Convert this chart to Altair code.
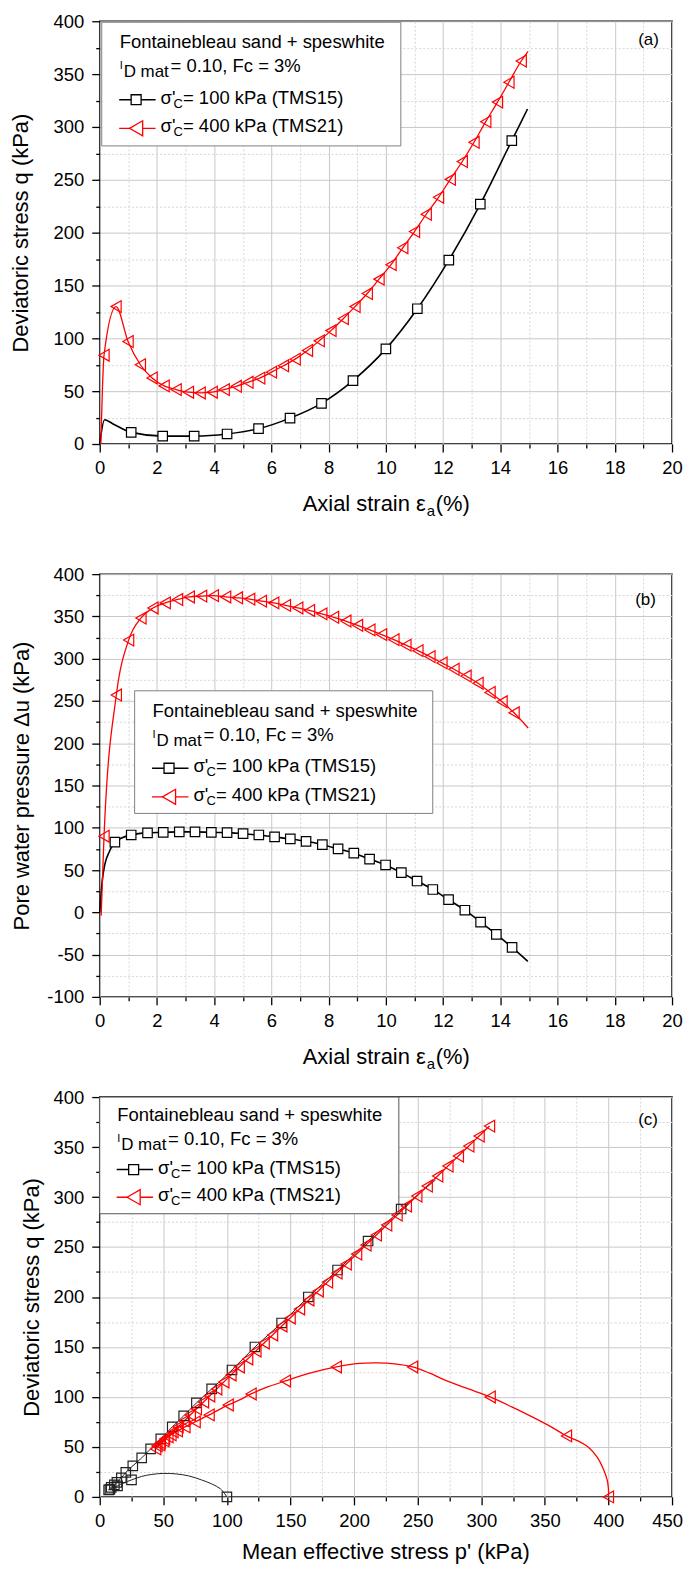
import altair as alt
import pandas as pd

FONT = "Liberation Sans"
RED = "#ff0000"
BLACK = "#000000"

# ---------------- tick positions ----------------
strain_ticks = [0, 1, 2, 3, 4, 5, 6, 7, 8, 9, 10, 11, 12, 13, 14, 15, 16, 17, 18, 19, 20]
q_ticks = [0, 25, 50, 75, 100, 125, 150, 175, 200, 225, 250, 275, 300, 325, 350, 375, 400]
u_ticks = [-100, -75, -50, -25, 0, 25, 50, 75, 100, 125, 150, 175, 200, 225, 250, 275, 300,
           325, 350, 375, 400]
p_ticks = [0, 25, 50, 75, 100, 125, 150, 175, 200, 225, 250, 275, 300, 325, 350, 375, 400,
           425, 450]

# ---------------- (a) q vs axial strain ----------------
a15_strain = [0, 0.17, 0.5, 1.1, 2.2, 3.3, 4.45, 5.55, 6.65, 7.75, 8.85, 10.0, 11.1, 12.2,
              13.3, 14.4, 14.95]
a15_q = [0, 23, 18.5, 11, 7.5, 7.5, 9.5, 14.5, 24.5, 38.5, 60, 90, 128, 174, 227, 287, 317]
a15_mark = [0, 0, 0, 1, 1, 1, 1, 1, 1, 1, 1, 1, 1, 1, 1, 1, 0]

a21_strain = [0.04, 0.15, 0.57, 0.99, 1.42, 1.83, 2.25, 2.67, 3.1, 3.51, 3.93, 4.35, 4.77,
              5.18, 5.59, 6.0, 6.42, 6.83, 7.26, 7.67, 8.08, 8.51, 8.92, 9.35, 9.76, 10.18,
              10.59, 11.0, 11.41, 11.84, 12.25, 12.67, 13.08, 13.49, 13.9, 14.3, 14.73, 14.97]
a21_q = [0, 84, 130, 97, 75, 62.5, 55, 51.5, 49, 48.3, 49, 51.5, 54.6, 58.4, 62.4, 68, 74,
         80.3, 88.5, 97.6, 107.3, 118.6, 130, 142.4, 156, 169.7, 185.7, 201, 217.4, 233.4,
         250.4, 267.3, 285.5, 305, 323.5, 342.3, 362.4, 371.5]
a21_mark = [0] + [1] * 36 + [0]

# ---------------- (b) pore pressure vs axial strain ----------------
b15_strain = [0, 0.08, 0.18, 0.34, 0.53, 1.1, 1.67, 2.22, 2.78, 3.33, 3.9, 4.45, 5.01, 5.56,
              6.11, 6.66, 7.21, 7.78, 8.33, 8.88, 9.43, 9.99, 10.54, 11.09, 11.64, 12.19,
              12.76, 13.31, 13.86, 14.41, 14.96]
b15_u = [0, 35, 57, 72, 83, 91.5, 94, 94.5, 95.2, 95.2, 94.5, 94.3, 93, 91.5, 89.2, 86.8, 84,
         80, 75, 70, 63, 56, 47, 37, 27, 15, 2.5, -11.5, -26, -41.5, -58]
b15_mark = [0, 0, 0, 0] + [1] * 26 + [0]

b21_strain = [0.05, 0.15, 0.58, 1.01, 1.44, 1.86, 2.29, 2.72, 3.13, 3.56, 3.97, 4.40, 4.81,
              5.24, 5.65, 6.08, 6.49, 6.92, 7.33, 7.76, 8.17, 8.60, 9.01, 9.44, 9.85, 10.28,
              10.70, 11.12, 11.54, 11.96, 12.38, 12.80, 13.22, 13.64, 14.06, 14.48, 14.97]
b21_u = [-4, 90, 257, 322, 348, 360, 366, 370, 373, 374, 374.5, 373, 372, 370.5, 368, 366,
         363, 360, 357, 353, 349, 344.5, 339.5, 334, 328.5, 322.5, 316, 309.5, 302.5, 295,
         287.5, 279.5, 271, 260, 249, 236, 218]
b21_mark = [0] + [1] * 35 + [0]

# ---------------- (c) q vs mean effective stress ----------------
c15_p = [100, 95, 88, 80, 70, 60, 50, 41, 33, 25, 19, 14, 10, 8, 7, 7.5, 9, 11.5, 13.5, 17,
         20.5, 26, 33, 40, 48, 57, 66, 76, 88, 104, 122, 143, 164, 187, 211, 237, 264]
c15_q = [0, 8, 13, 17, 21, 23, 23.5, 22.5, 20.5, 17, 14, 11, 9, 7.5, 7, 8, 9.5, 12, 14.5, 19,
         24.5, 31, 39, 48, 58, 70, 81, 94, 108, 127, 150, 174, 200, 227, 256, 288, 317]
c15_mark = [1, 0, 0, 0, 0, 0, 0, 0, 0, 1, 0, 1, 0, 1, 1, 0, 1, 1, 1, 1, 1, 1, 1, 1, 1, 1, 1,
            1, 1, 1, 1, 1, 1, 1, 1, 1, 0]

c21_p = [400, 400, 399, 396, 391, 384, 376, 367, 355, 340, 324, 307, 290, 273, 259, 246, 232,
         218, 204, 186, 166, 146, 132, 119, 110, 101, 86, 75, 67, 61, 56, 51, 47.5, 45, 44,
         47.2, 50.4, 53.6, 57.6, 61.6, 66.4, 71.2, 76.0, 81.6, 86.4, 92.0, 97.6, 103.2,
         109.7, 116.3, 122.8, 129.3, 135.9, 143.2, 149.7, 157.1, 164.4, 171.8, 179.1, 186.5,
         193.8, 202.0, 209.3, 217.5, 225.6, 233.8, 241.1, 249.3, 257.5, 265.7, 273.8, 282.0,
         290.2, 298.3, 306.5]
c21_q = [0, 8, 17, 28, 40, 50, 56, 61, 70, 80, 90, 100, 108, 116, 124, 130, 133, 134, 133.5,
         130, 124, 116, 110, 103, 97, 92, 82, 75, 70, 66, 62, 58, 54, 51, 48,
         52, 56, 60, 65, 70, 76, 82, 88, 95, 101, 108, 115, 122, 130, 138, 146, 154, 162, 171,
         179, 188, 197, 206, 215, 224, 233, 243, 252, 262, 272, 282, 291, 301, 311, 321, 331,
         341, 351, 361, 371]
c21_mark = [1, 0, 0, 0, 0, 0, 0, 1, 0, 0, 0, 1, 0, 0, 0, 1, 0, 0, 0, 1, 0, 1, 0, 1, 0, 1,
            1, 1, 1, 1, 1, 1, 1, 1, 1] + [1] * 40

LEGEND_TITLE = "Fontainebleau sand + speswhite"
LEGEND_ID = "= 0.10, Fc = 3%"
LEGEND_S1 = "= 100 kPa (TMS15)"
LEGEND_S2 = "= 400 kPa (TMS21)"

TICK_FS = 18.5
TITLE_FS = 22
LEG_FS = 18.5
W = 574


def frame(x, y, m):
    return pd.DataFrame({"x": x, "y": y, "m": m, "o": list(range(len(x)))})


def cond(test, major, minor):
    return {"condition": {"test": test, "value": major}, "value": minor}


def axis(values, major, title, title_pad, label_pad, last=None, last_shift=0):
    test = f"datum.value % {major} === 0"
    kw = dict(
        values=values,
        labelExpr=f"{test} ? '' + datum.value : ''",
        labelOverlap=False,
        labelFlush=False,
        labelPadding=label_pad,
        tickSize=cond(test, 8, 4),
        tickColor=BLACK,
        tickWidth=1.3,
        grid=True,
        gridColor=cond(test, "#c8c8c8", "#d6d6d6"),
        gridDash=cond(test, [], [2, 2]),
        gridWidth=1,
        domain=False,
    )
    if last is not None:
        kw.update(labelOffset=cond(f"datum.value === {last}", last_shift, 0))
    if title:
        kw.update(title=title, titlePadding=title_pad)
    else:
        kw.update(title=None)
    return alt.Axis(**kw)


ANNOT = pd.DataFrame({"k": [0]})


def text(s, x, y, size=LEG_FS, align="left", baseline="alphabetic"):
    return alt.Chart(ANNOT).mark_text(
        text=s, font=FONT, fontSize=size, color=BLACK, align=align, baseline=baseline
    ).encode(x=alt.value(x), y=alt.value(y))


def legend(box, lx, b1, b2, b3, b4, box_stroke="#808080"):
    x0, x1, y0, y1 = box
    L = [alt.Chart(ANNOT).mark_rect(fill="white", stroke=box_stroke, strokeWidth=1).encode(
        x=alt.value(x0), x2=alt.value(x1), y=alt.value(y0), y2=alt.value(y1))]
    L.append(text(LEGEND_TITLE, lx, b1))
    L.append(text("I", lx, b2 - 3, size=11))
    L.append(text("D mat", lx + 4, b2 + 5, size=17))
    L.append(text(LEGEND_ID, lx + 51, b2))
    for b, col, shape, size, lab in [
        (b3, BLACK, "square", 100, LEGEND_S1),
        (b4, RED, "triangle-left", 230, LEGEND_S2),
    ]:
        ys = b - 4
        L.append(alt.Chart(ANNOT).mark_rule(color=col, strokeWidth=1.4).encode(
            x=alt.value(lx - 0.5), x2=alt.value(lx + 36), y=alt.value(ys)))
        L.append(alt.Chart(ANNOT).mark_point(
            shape=shape, size=size, stroke=col, fill="white", fillOpacity=1, strokeWidth=1.3,
            opacity=1).encode(x=alt.value(lx + 16.5), y=alt.value(ys)))
        L.append(text("σ'", lx + 41, b))
        L.append(text("C", lx + 54, b + 4, size=13))
        L.append(text(lab, lx + 63.5, b))
    return L


def strain_title(h, base, paren):
    # "Axial strain ε" + subscript "a" + "(%)"
    cx = W / 2 + 40
    return [
        text("Axial strain ε", cx, h + base, size=TITLE_FS, align="right"),
        text("a", cx + 1, h + base + 5, size=15),
        text(paren, cx + 10, h + base, size=TITLE_FS),
    ]


def panel(series, xdom, ydom, xt, yt, xmaj, ymaj, ytitle, ytp, interp,
          tag, tag_xy, leg, xtitle_layers, w, h, last):
    X = alt.X("x:Q", scale=alt.Scale(domain=xdom, nice=False, zero=False),
              axis=axis(xt, xmaj, None, 0, 7, last, -5 if last == 450 else 0))
    Y = alt.Y("y:Q", scale=alt.Scale(domain=ydom, nice=False, zero=False),
              axis=axis(yt, ymaj, ytitle, ytp, 8))
    layers = []
    for df, col, lw, shape, size, fill in series:
        layers.append(alt.Chart(df).mark_line(color=col, strokeWidth=lw,
                                              interpolate=interp).encode(
            x=X, y=Y, order="o:Q"))
    layers += leg
    for df, col, lw, shape, size, fill in series:
        kw = dict(shape=shape, size=size, stroke=col, strokeWidth=1.2, opacity=1)
        if fill:
            kw.update(fill=fill, fillOpacity=1)
        layers.append(alt.Chart(df).transform_filter("datum.m == 1").mark_point(**kw).encode(
            x=X, y=Y))
    layers.append(text(tag, tag_xy[0], tag_xy[1], size=17, baseline="middle"))
    layers += xtitle_layers
    return alt.layer(*layers).properties(width=w, height=h)


HA, HB, HC = 424, 424, 401

pa = panel(
    [(frame(a15_strain, a15_q, a15_mark), BLACK, 1.6, "square", 90, "white"),
     (frame(a21_strain, a21_q, a21_mark), RED, 1.3, "triangle-left", 140, None)],
    [0, 20], [0, 400], strain_ticks, q_ticks, 2, 50,
    "Deviatoric stress q (kPa)", 21, "monotone",
    "(a)", (540, 18.5), legend((2, 302, 1, 125), 20, 27, 51, 82.7, 111.4),
    strain_title(HA, 67, "(%)"), W, HA, 20)

pb = panel(
    [(frame(b15_strain, b15_u, b15_mark), BLACK, 1.6, "square", 90, "white"),
     (frame(b21_strain, b21_u, b21_mark), RED, 1.3, "triangle-left", 140, None)],
    [0, 20], [-100, 400], strain_ticks, u_ticks, 2, 50,
    "Pore water pressure Δu (kPa)", 13, "monotone",
    "(b)", (537, 25.7), legend((35, 334, 117, 240), 53, 143, 167, 198.7, 227.4),
    strain_title(HB, 67, " (%)"), W, HB, 20)

pc = panel(
    [(frame(c15_p, c15_q, c15_mark), "#222222", 1.0, "square", 90, None),
     (frame(c21_p, c21_q, c21_mark), RED, 1.3, "triangle-left", 140, None)],
    [0, 450], [0, 400], p_ticks, q_ticks, 50, 50,
    "Deviatoric stress q (kPa)", 10, "catmull-rom",
    "(c)", (540, 23), legend((0, 300, 0, 117), 17.5, 24, 48, 76.7, 104.4, "#555555"),
    [text("Mean effective stress p' (kPa)", W / 2, HC + 62, size=TITLE_FS, align="center")],
    W, HC, 450)

top = alt.vconcat(pa, pb, spacing=44.5)
chart = alt.vconcat(top, pc, spacing=14).properties(
    padding={"left": 0, "top": 1, "right": 0, "bottom": 0}
).configure_axis(
    labelFont=FONT, labelFontSize=TICK_FS, labelColor=BLACK,
    titleFont=FONT, titleFontSize=TITLE_FS, titleFontWeight="normal", titleColor=BLACK,
).configure_view(stroke=BLACK, strokeWidth=1.5)

chart.save("out.html", embed_options={"renderer": "svg", "actions": False})
